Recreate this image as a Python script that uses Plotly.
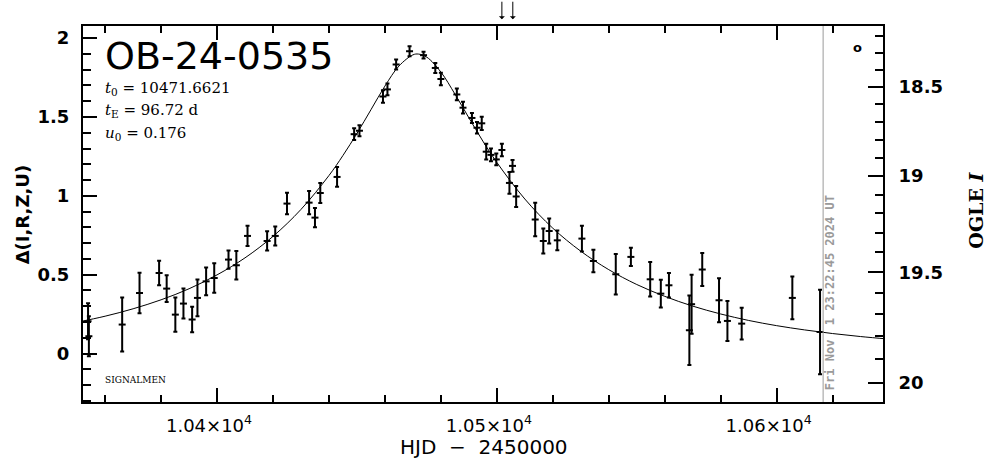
import math
import plotly.graph_objects as go

# ---------------- data ----------------
hjd = [10353.9, 10354.2, 10366.1, 10372.3, 10379.3, 10382.0, 10385.1, 10388.0,
       10391.1, 10393.0, 10396.1, 10399.0, 10404.1, 10406.9, 10410.9, 10417.9,
       10420.8, 10425.0, 10432.9, 10435.0, 10436.9, 10442.9, 10449.0, 10450.9,
       10459.3, 10460.9, 10464.0, 10468.8, 10473.8, 10478.0, 10480.0, 10485.7,
       10487.9, 10491.1, 10492.9, 10494.6, 10496.2, 10497.9, 10499.8, 10501.8,
       10504.5, 10505.6, 10506.9, 10513.7, 10516.6, 10518.7, 10521.6, 10530.4,
       10534.5, 10542.5, 10547.9, 10554.8, 10558.6, 10561.5, 10568.8, 10569.6,
       10573.4, 10579.4, 10582.4, 10587.5, 10605.6, 10615.5]
delta = [0.205, 0.110, 0.184, 0.384, 0.511, 0.412, 0.247, 0.317,
         0.216, 0.353, 0.458, 0.479, 0.596, 0.560, 0.746, 0.714,
         0.746, 0.951, 0.957, 0.862, 1.018, 1.120, 1.391, 1.413,
         1.630, 1.675, 1.833, 1.917, 1.892, 1.811, 1.741, 1.643,
         1.559, 1.494, 1.432, 1.460, 1.280, 1.260, 1.231, 1.291,
         1.082, 1.190, 0.996, 0.850, 0.714, 0.777, 0.718, 0.729,
         0.587, 0.503, 0.613, 0.471, 0.380, 0.433, 0.148, 0.313,
         0.533, 0.338, 0.207, 0.190, 0.353, 0.137]
delta_err = [0.114, 0.127, 0.171, 0.129, 0.077, 0.085, 0.108, 0.095,
             0.081, 0.116, 0.088, 0.093, 0.058, 0.090, 0.064, 0.061,
             0.060, 0.068, 0.074, 0.061, 0.063, 0.063, 0.037, 0.035,
             0.040, 0.037, 0.032, 0.032, 0.021, 0.032, 0.039, 0.037,
             0.037, 0.032, 0.037, 0.042, 0.050, 0.040, 0.037, 0.040,
             0.069, 0.037, 0.066, 0.106, 0.079, 0.079, 0.063, 0.081,
             0.071, 0.129, 0.058, 0.109, 0.088, 0.078, 0.220, 0.187,
             0.104, 0.140, 0.127, 0.101, 0.135, 0.268]

# model curve (t0 = 10471.6621, tE = 96.72 d, u0 = 0.176), read values
model_hjd = [10350, 10360, 10370, 10380, 10390, 10400, 10410, 10420, 10430,
             10440, 10445, 10450, 10455, 10460, 10465, 10470, 10472, 10475,
             10480, 10485, 10490, 10495, 10500, 10510, 10520, 10530, 10540,
             10550, 10560, 10570, 10580, 10590, 10600, 10610, 10620, 10630, 10640]
model_delta = [0.199, 0.237, 0.284, 0.341, 0.411, 0.499, 0.607, 0.743, 0.914,
               1.129, 1.256, 1.396, 1.546, 1.696, 1.823, 1.894, 1.899, 1.879,
               1.785, 1.646, 1.495, 1.347, 1.212, 0.980, 0.795, 0.649, 0.532,
               0.438, 0.363, 0.301, 0.251, 0.210, 0.177, 0.150, 0.127, 0.108, 0.092]

# right axis: OGLE I magnitudes
i_major = [18.5, 19.0, 19.5, 20.0]
i_major_text = ["18.5", "19", "19.5", "20"]
i_minor = [18.2, 18.3, 18.4, 18.6, 18.7, 18.8, 18.9, 19.1, 19.2, 19.3, 19.4,
           19.6, 19.7, 19.8, 19.9]
I_BASE = 19.877      # baseline magnitude
F_SOURCE = 0.6826    # source flux fraction at baseline

# x ticks
x_tickvals = [10400, 10500, 10600]
x_ticktext = ["1.04\u00d710<sup>4</sup>", "1.05\u00d710<sup>4</sup>", "1.06\u00d710<sup>4</sup>"]

ALERT_HJD = [10501.8, 10505.7]
NOW_HJD = 10616.6

X_RANGE = [10352.1, 10638.0]
Y_RANGE = [-0.307, 2.077]


def mag_to_delta(m):
    f = 10 ** (-0.4 * (m - I_BASE))
    return 2.5 * math.log10((f - (1 - F_SOURCE)) / F_SOURCE)


fig = go.Figure()

fig.add_trace(go.Scatter(
    x=model_hjd, y=model_delta, mode="lines",
    line=dict(color="black", width=1, shape="spline", smoothing=1.0),
    hoverinfo="skip", showlegend=False))

fig.add_trace(go.Scatter(
    x=hjd, y=delta, mode="markers",
    marker=dict(symbol="line-ew", size=5, color="black",
                line=dict(color="black", width=2)),
    error_y=dict(type="data", array=delta_err, visible=True,
                 color="black", thickness=2, width=2),
    showlegend=False))

# invisible traces to activate overlay axes
fig.add_trace(go.Scatter(x=[X_RANGE[0]], y=[0], yaxis="y2", mode="markers",
                         marker=dict(opacity=0), showlegend=False, hoverinfo="skip"))
fig.add_trace(go.Scatter(x=[X_RANGE[0]], y=[0], yaxis="y3", mode="markers",
                         marker=dict(opacity=0), showlegend=False, hoverinfo="skip"))

fig.update_layout(
    width=986, height=459,
    margin=dict(l=83, r=103, t=26, b=57),
    paper_bgcolor="white", plot_bgcolor="white",
    showlegend=False,
    xaxis=dict(
        range=X_RANGE, showgrid=False, zeroline=False,
        showline=True, linecolor="black", linewidth=2, mirror="ticks",
        ticks="inside", ticklen=14, tickwidth=2, tickcolor="black",
        tickvals=x_tickvals, ticktext=x_ticktext,
        tickfont=dict(family="DejaVu Sans", size=18, color="black"),
        ticklabelstandoff=6, ticklabelshift=-8,
        minor=dict(dtick=20, tick0=10400, ticks="inside", ticklen=7,
                   tickwidth=2, tickcolor="black", showgrid=False),
    ),
    yaxis=dict(
        range=Y_RANGE, showgrid=False, zeroline=False,
        showline=True, linecolor="black", linewidth=2,
        ticks="inside", ticklen=14, tickwidth=2, tickcolor="black",
        tickvals=[0, 0.5, 1, 1.5, 2], ticktext=["0", "0.5", "1", "1.5", "2"],
        tickfont=dict(family="DejaVu Sans", size=18, color="black", weight="bold"),
        ticklabelstandoff=8,
        minor=dict(dtick=0.1, tick0=0, ticks="inside", ticklen=8,
                   tickwidth=2, tickcolor="black", showgrid=False),
    ),
    yaxis2=dict(
        range=Y_RANGE, overlaying="y", side="right", anchor="x",
        showgrid=False, zeroline=False,
        showline=True, linecolor="black", linewidth=2,
        ticks="inside", ticklen=15, tickwidth=2, tickcolor="black",
        tickvals=[mag_to_delta(m) for m in i_major], ticktext=i_major_text,
        tickfont=dict(family="DejaVu Sans", size=18, color="black", weight="bold"),
        ticklabelstandoff=10,
    ),
    yaxis3=dict(
        range=Y_RANGE, overlaying="y", side="right", anchor="x",
        showgrid=False, zeroline=False, showline=False,
        ticks="inside", ticklen=8, tickwidth=2, tickcolor="black",
        tickvals=[mag_to_delta(m) for m in i_minor], showticklabels=False,
    ),
)

# vertical "now" line
fig.add_shape(type="line", xref="x", yref="paper", x0=NOW_HJD, x1=NOW_HJD,
              y0=0, y1=1, line=dict(color="#9a9a9a", width=1))

serif = "DejaVu Serif"
ann = [
    dict(text="OB-24-0535", x=0.025, y=0.92, xanchor="left", yanchor="middle",
         font=dict(family="DejaVu Sans", size=38, color="black")),
    dict(text="<i>t</i><sub>0</sub> = 10471.6621", x=0.025, y=0.835, xanchor="left", yanchor="middle",
         font=dict(family=serif, size=15, color="black")),
    dict(text="<i>t</i><sub>E</sub> = 96.72 d", x=0.025, y=0.774, xanchor="left", yanchor="middle",
         font=dict(family=serif, size=15, color="black")),
    dict(text="<i>u</i><sub>0</sub> = 0.176", x=0.025, y=0.715, xanchor="left", yanchor="middle",
         font=dict(family=serif, size=15, color="black")),
    dict(text="SIGNALMEN", x=0.025, y=0.0585, xanchor="left", yanchor="middle",
         font=dict(family=serif, size=9, color="black")),
    dict(text="Fri Nov  1 23:22:45 2024 UT", x=0.934, y=0.29, xanchor="center", yanchor="middle",
         textangle=-90, font=dict(family="DejaVu Sans Mono", size=12, color="#9a9a9a", weight="bold")),
    dict(text="o", x=0.9675, y=0.9415, xanchor="center", yanchor="middle",
         font=dict(family="DejaVu Sans", size=13, color="black", weight="bold")),
    dict(text="\u0394(I,R,Z,U)", x=-0.076, y=0.497, xanchor="center", yanchor="middle",
         textangle=-90, font=dict(family="DejaVu Sans", size=18, color="black", weight="bold")),
    dict(text="OGLE <i>I</i>", x=1.116, y=0.511, xanchor="center", yanchor="middle",
         textangle=-90, font=dict(family="DejaVu Serif", size=19, color="black", weight="bold")),
    dict(text="HJD  \u2212  2450000", x=0.501, y=-0.12, xanchor="center", yanchor="middle",
         font=dict(family="DejaVu Sans", size=20, color="black")),
]
for a in ann:
    a.update(xref="paper", yref="paper", showarrow=False)
    fig.add_annotation(**a)

for xa in ALERT_HJD:
    fig.add_annotation(x=xa, y=1.018, xref="x", yref="paper", text="",
                       showarrow=True, ax=0, ay=-19, axref="pixel", ayref="pixel",
                       arrowhead=1, arrowsize=1, arrowwidth=1, arrowcolor="black")

fig.write_html("out.html", config={"displayModeBar": False},
               post_script="document.body.style.margin='0';document.body.style.overflow='hidden';")
